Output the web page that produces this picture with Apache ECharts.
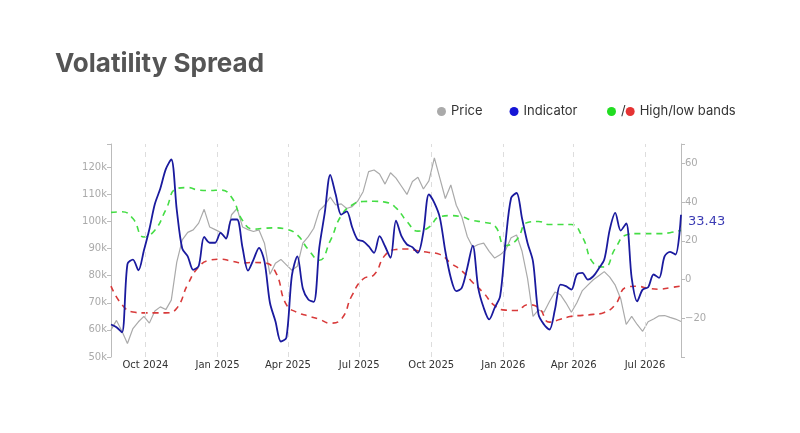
<!DOCTYPE html>
<html>
<head>
<meta charset="utf-8">
<script src="https://cdn.jsdelivr.net/npm/echarts@6/dist/echarts.min.js"></script>
<style>
  html, body { margin: 0; padding: 0; background: #fff; }
  #main { width: 800px; height: 433px; }
</style>
</head>
<body>
<div id="main"></div>
<script>
// weekly samples starting 2024-08-18
var startDate = Date.UTC(2024, 7, 18);
var weekStep = 7;
var bandStep = 14;

// price, thousands USD (left axis)
var priceK = [
  60.0, 63.5, 59.5, 55.0, 60.5, 63.0, 65.0, 62.5, 67.0, 68.5,
  67.5, 71.0, 85.0, 93.2, 96.0, 96.9, 99.4, 104.5, 98.0, 97.0,
  96.0, 93.5, 102.5, 104.8, 98.0, 97.0, 96.3, 96.9, 92.0, 80.5,
  84.6, 86.0, 84.0, 82.0, 83.5, 92.0, 94.4, 97.5, 104.0, 106.0,
  109.0, 106.1, 106.5, 104.8, 105.5, 107.5, 111.0, 118.4, 119.0, 117.5,
  113.8, 118.0, 116.0, 113.0, 110.0, 114.8, 116.3, 112.0, 115.0, 123.5,
  116.0, 108.5, 113.5, 106.0, 101.8, 94.5, 90.5, 91.5, 92.0, 89.0,
  86.5, 87.7, 89.5, 94.0, 95.0, 89.0, 79.0, 65.0, 67.4, 66.5,
  70.5, 74.0, 73.0, 70.0, 66.5, 70.0, 74.5, 76.5, 78.5, 80.0,
  81.5, 79.5, 76.5, 71.5, 62.0, 65.0, 62.0, 59.5, 63.0, 64.0,
  65.2, 65.3, 64.6, 64.0, 63.1
];

// indicator (right axis)
var indicator = [
  -23.2, -24.6, -27.3, 8, 10.3, 4.8, 15, 26, 39, 47,
  57, 62, 36, 16, 12, 5, 7, 22, 19, 19,
  24.1, 21.2, 31, 31, 16.4, 4.6, 10.3, 16.4, 9.4, -12,
  -21.5, -32, -30, 2, 12, -4.6, -10.3, -11.5, 16.4, 34.4,
  54, 43.9, 33.5, 35.2, 27, 20.6, 19.8, 17.2, 13.8, 22.4,
  17.2, 11.2, 30.4, 22.4, 18.1, 16.7, 13.8, 24.6, 44, 39.6,
  32, 14.6, 0.9, -6, -4.3, 6, 17.5, -4.3, -14.6, -20.6,
  -14.6, -8.6, 19.8, 42.1, 44.7, 31.5, 18.9, 9.3, -18, -23.2,
  -25.8, -15.5, -2.6, -3.4, -5.2, 2.6, 3.4, 0, 1.7, 5.7,
  10.3, 25.8, 34.4, 25.3, 29, 0.9, -11.2, -5.2, -4, 2.6,
  0.9, 12, 14.3, 12.9, 33.43
];

// bands, sampled every two weeks (right axis)
var highBand = [
  34.7, 35.0, 31.5, 22.0, 25.5, 36.0, 47.0, 47.5, 46.2, 46.0,
  46.2, 42.5, 30.5, 26.0, 26.5, 26.7, 26.0, 23.0, 15.5, 10.0,
  20.0, 33.0, 38.5, 40.3, 40.4, 40.0, 37.0, 30.0, 25.0, 27.0,
  32.5, 33.0, 32.4, 30.5, 29.6, 27.8, 17.5, 20.5, 29.5, 30.0,
  28.4, 28.4, 28.4, 22.0, 8.5, 6.5, 16.0, 23.0, 23.7, 23.7,
  23.7, 24.2, 25.4
];
var lowBand = [
  -3.4, -13.0, -16.8, -17.2, -17.2, -17.2, -14.8, -2.5, 6.5, 10.0,
  10.5, 9.5, 8.6, 8.8, 8.6, 4.0, -13.0, -17.0, -18.8, -20.5,
  -22.5, -20.5, -8.0, 0.3, 2.5, 12.5, 15.5, 15.8, 14.8, 14.0,
  13.0, 8.5, 4.5, -1.5, -7.0, -13.5, -15.8, -16.0, -13.0, -14.5,
  -22.0, -20.5, -19.0, -18.5, -18.0, -17.0, -13.0, -4.0, -3.5, -4.5,
  -5.0, -4.2, -3.4
];

var quarterTicks = ['2024-10-01', '2025-01-01', '2025-04-01', '2025-07-01',
  '2025-10-01', '2026-01-01', '2026-04-01', '2026-07-01'];
var monthNames = ['Jan', 'Feb', 'Mar', 'Apr', 'May', 'Jun', 'Jul', 'Aug', 'Sep', 'Oct', 'Nov', 'Dec'];

var DAY = 86400000;
function toSeries(values, step, scale) {
  return values.map(function (v, i) {
    return [startDate + i * step * DAY, v * scale];
  });
}
function ts(s) {
  var p = s.split('-');
  return Date.UTC(+p[0], +p[1] - 1, +p[2]);
}
var tickTs = quarterTicks.map(ts);
var endDate = startDate + (indicator.length - 1) * weekStep * DAY;

var myChart = echarts.init(document.getElementById('main'));
var option = {
  animation: false,
  textStyle: { fontFamily: 'Inter, sans-serif' },
  title: {
    text: 'Volatility Spread',
    left: 50,
    top: 46,
    textStyle: { fontSize: 26, fontWeight: 'bold', color: '#555', fontFamily: 'Inter' }
  },
  legend: [{
    left: 432,
    top: 100,
    icon: 'circle',
    itemWidth: 9,
    itemHeight: 9,
    itemGap: 27,
    textStyle: { fontSize: 13, color: '#333', fontFamily: 'Inter' },
    data: [
      { name: 'Price', itemStyle: { color: '#aaaaaa' } },
      { name: 'Indicator', itemStyle: { color: '#1515d6' } }
    ]
  }, {
    left: 602,
    top: 100,
    icon: 'circle',
    itemWidth: 9,
    itemHeight: 9,
    itemGap: 0,
    textStyle: { fontSize: 13, color: '#333', fontFamily: 'Inter' },
    formatter: function (name) { return name === 'High band' ? '/' : 'High/low bands'; },
    data: [
      { name: 'High band', itemStyle: { color: '#22dd22' } },
      { name: 'Low band', itemStyle: { color: '#e53333' } }
    ]
  }],
  grid: { left: 111, right: 119, top: 144, bottom: 76 },
  xAxis: {
    type: 'value',
    min: startDate,
    max: endDate,
    axisLine: { show: false },
    axisTick: { show: false },
    splitLine: { show: false },
    axisLabel: {
      customValues: tickTs,
      color: '#333',
      fontSize: 10,
      fontFamily: 'DejaVu Sans',
      margin: 3,
      formatter: function (v) {
        var d = new Date(v);
        return monthNames[d.getUTCMonth()] + ' ' + d.getUTCFullYear();
      }
    }
  },
  yAxis: [{
    type: 'value',
    min: 50000,
    max: 128600,
    interval: 10000,
    axisLine: { show: true, lineStyle: { color: '#bbb' } },
    axisTick: { show: true, length: 4, lineStyle: { color: '#bbb' } },
    splitLine: { show: false },
    axisLabel: {
      color: '#aaa',
      fontSize: 10,
      fontFamily: 'DejaVu Sans',
      margin: 4,
      formatter: function (v) { return v % 10000 === 0 ? (v / 1000) + 'k' : ''; }
    }
  }, {
    type: 'value',
    position: 'right',
    min: -40,
    max: 70,
    interval: 20,
    axisLine: { show: true, lineStyle: { color: '#bbb' } },
    axisTick: { show: true, length: 4, lineStyle: { color: '#bbb' } },
    splitLine: { show: false },
    axisLabel: {
      color: '#aaa',
      fontSize: 10,
      fontFamily: 'DejaVu Sans',
      margin: 4,
      formatter: function (v) {
        if (v <= -40 || v >= 70) { return ''; }
        return v < 0 ? '\u2212' + Math.abs(v) : String(v);
      }
    }
  }],
  series: [{
    // quarter grid lines, kept underneath everything
    name: 'grid',
    type: 'line',
    data: [],
    z: 1,
    markLine: {
      silent: true,
      symbol: 'none',
      label: { show: false },
      lineStyle: { color: '#dddddd', type: [5, 5], width: 1 },
      data: tickTs.map(function (t) { return { xAxis: t }; })
    }
  }, {
    name: 'Price',
    type: 'line',
    yAxisIndex: 0,
    z: 3,
    data: toSeries(priceK, weekStep, 1000),
    showSymbol: false,
    color: '#aaaaaa',
    lineStyle: { width: 1.2, color: '#aaaaaa' }
  }, {
    name: 'Low band',
    type: 'line',
    yAxisIndex: 1,
    z: 4,
    data: toSeries(lowBand, bandStep, 1),
    showSymbol: false,
    smooth: true,
    color: '#d83a3a',
    lineStyle: { width: 1.6, type: [6, 5], color: '#d83a3a' }
  }, {
    name: 'High band',
    type: 'line',
    yAxisIndex: 1,
    z: 4,
    data: toSeries(highBand, bandStep, 1),
    showSymbol: false,
    smooth: true,
    color: '#44dd44',
    lineStyle: { width: 1.6, type: [6, 5], color: '#44dd44' }
  }, {
    name: 'Indicator',
    type: 'line',
    yAxisIndex: 1,
    z: 5,
    data: toSeries(indicator, weekStep, 1),
    showSymbol: false,
    smooth: 0.3,
    color: '#1a1a9e',
    lineStyle: { width: 1.8, color: '#1a1a9e' },
    endLabel: {
      show: true,
      distance: 7,
      offset: [0, 7],
      color: '#3c3cb4',
      fontSize: 13,
      fontWeight: 500,
      fontFamily: 'DejaVu Sans',
      formatter: function (p) { return p.value[1].toFixed(2); }
    }
  }]
};
myChart.setOption(option);
</script>
</body>
</html>
